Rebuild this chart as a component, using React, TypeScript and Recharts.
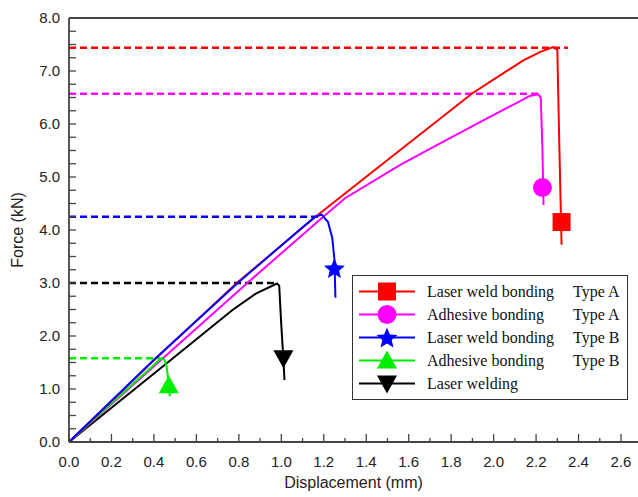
import { ComposedChart, Line, ReferenceLine, Scatter, XAxis, YAxis } from "recharts";

// measured curves (displacement mm, force kN)
const laserWeldBondingA = [
  { x: 0, y: 0 }, { x: 0.4, y: 1.54 }, { x: 0.79, y: 3.0 }, { x: 1.17, y: 4.28 },
  { x: 1.56, y: 5.51 }, { x: 1.9, y: 6.58 }, { x: 2.05, y: 6.97 }, { x: 2.14, y: 7.2 },
  { x: 2.22, y: 7.36 }, { x: 2.28, y: 7.45 }, { x: 2.3, y: 7.4 }, { x: 2.31, y: 5.5 }, { x: 2.32, y: 3.72 },
];
const adhesiveBondingA = [
  { x: 0, y: 0 }, { x: 0.42, y: 1.5 }, { x: 0.84, y: 3.0 }, { x: 1.18, y: 4.19 }, { x: 1.3, y: 4.6 },
  { x: 1.56, y: 5.23 }, { x: 1.75, y: 5.64 }, { x: 1.98, y: 6.13 }, { x: 2.1, y: 6.38 },
  { x: 2.17, y: 6.53 }, { x: 2.21, y: 6.56 }, { x: 2.222, y: 6.5 }, { x: 2.23, y: 5.5 }, { x: 2.235, y: 4.47 },
];
const laserWeldBondingB = [
  { x: 0, y: 0 }, { x: 0.4, y: 1.55 }, { x: 0.8, y: 3.02 }, { x: 1.1, y: 4.05 }, { x: 1.16, y: 4.25 },
  { x: 1.19, y: 4.29 }, { x: 1.22, y: 4.15 }, { x: 1.24, y: 3.85 }, { x: 1.25, y: 3.45 }, { x: 1.255, y: 2.72 },
];
const adhesiveBondingB = [
  { x: 0, y: 0 }, { x: 0.2, y: 0.73 }, { x: 0.435, y: 1.58 }, { x: 0.45, y: 1.55 },
  { x: 0.46, y: 1.42 }, { x: 0.47, y: 1.1 }, { x: 0.475, y: 0.86 },
];
const laserWelding = [
  { x: 0, y: 0 }, { x: 0.44, y: 1.42 }, { x: 0.77, y: 2.49 }, { x: 0.88, y: 2.8 }, { x: 0.98, y: 2.99 },
  { x: 0.99, y: 2.95 }, { x: 1.0, y: 2.2 }, { x: 1.01, y: 1.55 }, { x: 1.015, y: 1.17 },
];

// peak force guide lines
const peakA = [{ x: 0, y: 7.44 }, { x: 2.35, y: 7.44 }];
const peakAdhA = [{ x: 0, y: 6.57 }, { x: 2.22, y: 6.57 }];
const peakB = [{ x: 0, y: 4.25 }, { x: 1.18, y: 4.25 }];
const peakAdhB = [{ x: 0, y: 1.58 }, { x: 0.43, y: 1.58 }];
const peakWeld = [{ x: 0, y: 3.0 }, { x: 0.98, y: 3.0 }];

// marker positions
const markA = [{ x: 2.32, y: 4.15 }];
const markAdhA = [{ x: 2.23, y: 4.8 }];
const markB = [{ x: 1.25, y: 3.28 }];
const markAdhB = [{ x: 0.47, y: 1.07 }];
const markWeld = [{ x: 1.01, y: 1.58 }];

const xTicks = [0, 0.1, 0.2, 0.3, 0.4, 0.5, 0.6, 0.7, 0.8, 0.9, 1.0, 1.1, 1.2, 1.3, 1.4, 1.5, 1.6, 1.7, 1.8, 1.9, 2.0, 2.1, 2.2, 2.3, 2.4, 2.5, 2.6];
const yTicks = [0, 0.25, 0.5, 0.75, 1, 1.25, 1.5, 1.75, 2, 2.25, 2.5, 2.75, 3, 3.25, 3.5, 3.75, 4, 4.25, 4.5, 4.75, 5, 5.25, 5.5, 5.75, 6, 6.25, 6.5, 6.75, 7, 7.25, 7.5, 7.75, 8];

const legendRows = [
  { name: "Laser weld bonding", type: "Type A", color: "#ff0000", shape: "square" },
  { name: "Adhesive bonding", type: "Type A", color: "#ff00ff", shape: "circle" },
  { name: "Laser weld bonding", type: "Type B", color: "#0000ff", shape: "star" },
  { name: "Adhesive bonding", type: "Type B", color: "#00ee00", shape: "up" },
  { name: "Laser welding", type: "", color: "#000000", shape: "down" },
];

const sans = "'Liberation Sans', Arial, sans-serif";
const serif = "'Liberation Serif', 'Times New Roman', serif";
const axisColor = "#444";

function starPoints(cx: number, cy: number, r: number) {
  const pts: string[] = [];
  for (let i = 0; i < 10; i++) {
    const rr = i % 2 === 0 ? r : r * 0.45;
    const a = -Math.PI / 2 + (i * Math.PI) / 5;
    pts.push(`${cx + rr * Math.cos(a)},${cy + rr * Math.sin(a)}`);
  }
  return pts.join(" ");
}

function Marker({ cx, cy, shape, color }: { cx: number; cy: number; shape: string; color: string }) {
  if (shape === "square") return <rect x={cx - 9} y={cy - 9} width={18} height={18} fill={color} />;
  if (shape === "circle") return <circle cx={cx} cy={cy} r={9.5} fill={color} />;
  if (shape === "star") return <polygon points={starPoints(cx, cy + 1, 11)} fill={color} />;
  if (shape === "up") return <polygon points={`${cx},${cy - 10} ${cx + 10},${cy + 8} ${cx - 10},${cy + 8}`} fill={color} />;
  return <polygon points={`${cx - 10},${cy - 8} ${cx + 10},${cy - 8} ${cx},${cy + 10}`} fill={color} />;
}

const XTick = (props: any) => {
  const { x, y, payload } = props;
  const v = payload.value as number;
  const major = Math.round(v * 10) % 2 === 0;
  return (
    <g>
      <line x1={x} x2={x} y1={y} y2={y - (major ? 8 : 4)} stroke={axisColor} strokeWidth={1.3} />
      {major && (
        <text x={x} y={y + 25} textAnchor="middle" fontFamily={sans} fontSize={15} fill="#222">
          {v.toFixed(1)}
        </text>
      )}
    </g>
  );
};

const YTick = (props: any) => {
  const { x, y, payload } = props;
  const v = payload.value as number;
  const major = Number.isInteger(v);
  return (
    <g>
      <line x1={x} x2={x + 7} y1={y} y2={y} stroke={axisColor} strokeWidth={1.3} />
      {major && (
        <text x={x - 9} y={y + 5} textAnchor="end" fontFamily={sans} fontSize={15} fill="#222">
          {v.toFixed(1)}
        </text>
      )}
    </g>
  );
};

function LegendBox() {
  return (
    <div style={{ position: "absolute", left: 352, top: 275, border: "1.5px solid #333", background: "#fff", padding: "4px 0", width: 276, boxSizing: "border-box" }}>
      {legendRows.map((r, i) => (
        <div key={i} style={{ display: "flex", alignItems: "center", height: 23, fontFamily: serif, fontSize: 16, color: "#111" }}>
          <svg width={58} height={23} style={{ marginLeft: 6, flex: "none" }}>
            <line x1={0} x2={56} y1={11.5} y2={11.5} stroke={r.color} strokeWidth={2} />
            <Marker cx={28} cy={11.5} shape={r.shape} color={r.color} />
          </svg>
          <span style={{ marginLeft: 10, width: 146, whiteSpace: "nowrap" }}>{r.name}</span>
          <span style={{ whiteSpace: "nowrap" }}>{r.type}</span>
        </div>
      ))}
    </div>
  );
}

const curve = (data: { x: number; y: number }[], color: string) => (
  <Line data={data} dataKey="y" type="linear" stroke={color} strokeWidth={2} dot={false} activeDot={false} isAnimationActive={false} />
);
const guide = (data: { x: number; y: number }[], color: string) => (
  <Line data={data} dataKey="y" type="linear" stroke={color} strokeWidth={2.5} strokeDasharray="7 4" dot={false} activeDot={false} isAnimationActive={false} />
);
const mark = (data: { x: number; y: number }[], shape: string, color: string) => (
  <Scatter data={data} dataKey="y" isAnimationActive={false} shape={(p: any) => <Marker cx={p.cx} cy={p.cy} shape={shape} color={color} />} />
);

export default function App() {
  return (
    <div style={{ position: "absolute", left: 0, top: 0, width: 638, height: 497, background: "#fff" }}>
      <ComposedChart width={638} height={497} margin={{ top: 18, right: 0, bottom: 0, left: 0 }}>
        <XAxis
          dataKey="x"
          type="number"
          domain={[0, 2.68]}
          ticks={xTicks}
          allowDataOverflow
          height={55}
          tickSize={0}
          tickMargin={0}
          tickLine={false}
          axisLine={{ stroke: axisColor, strokeWidth: 1.8 }}
          tick={<XTick />}
          interval={0}
          label={{ value: "Displacement (mm)", position: "insideBottom", offset: 9, fontFamily: sans, fontSize: 16, fill: "#222" }}
        />
        <YAxis
          type="number"
          domain={[0, 8]}
          ticks={yTicks}
          allowDataOverflow
          width={69}
          tickSize={0}
          tickMargin={0}
          tickLine={false}
          axisLine={{ stroke: axisColor, strokeWidth: 1.8 }}
          tick={<YTick />}
          interval={0}
          label={{ value: "Force (kN)", angle: -90, position: "insideLeft", offset: 17, fontFamily: sans, fontSize: 16, fill: "#222", style: { textAnchor: "middle" } }}
        />
        <ReferenceLine y={8} stroke={axisColor} strokeWidth={1.8} />
        {guide(peakA, "#ff0000")}
        {guide(peakAdhA, "#ff00ff")}
        {guide(peakB, "#0000ff")}
        {guide(peakAdhB, "#00ee00")}
        {guide(peakWeld, "#000000")}
        {curve(laserWelding, "#000000")}
        {curve(adhesiveBondingA, "#ff00ff")}
        {curve(adhesiveBondingB, "#00ee00")}
        {curve(laserWeldBondingA, "#ff0000")}
        {curve(laserWeldBondingB, "#0000ff")}
        {mark(markA, "square", "#ff0000")}
        {mark(markAdhA, "circle", "#ff00ff")}
        {mark(markB, "star", "#0000ff")}
        {mark(markAdhB, "up", "#00ee00")}
        {mark(markWeld, "down", "#000000")}
      </ComposedChart>
      <LegendBox />
    </div>
  );
}
